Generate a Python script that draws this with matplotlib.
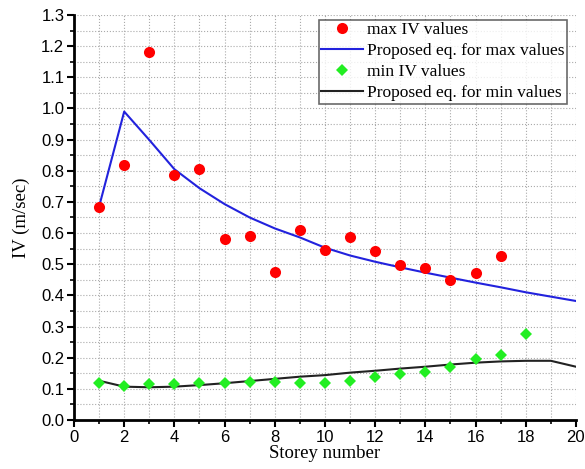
import matplotlib
matplotlib.use('Agg')
import matplotlib.pyplot as plt
from matplotlib.ticker import MultipleLocator

# storeys
storey_pts = [1, 2, 3, 4, 5, 6, 7, 8, 9, 10, 11, 12, 13, 14, 15, 16, 17]
max_iv = [0.685, 0.82, 1.18, 0.785, 0.805, 0.58, 0.59, 0.475, 0.61, 0.546,
          0.586, 0.543, 0.497, 0.488, 0.449, 0.471, 0.526]

storey_min = [1, 2, 3, 4, 5, 6, 7, 8, 9, 10, 11, 12, 13, 14, 15, 16, 17, 18]
min_iv = [0.118, 0.110, 0.115, 0.115, 0.118, 0.119, 0.121, 0.121, 0.120, 0.118,
          0.125, 0.137, 0.148, 0.153, 0.169, 0.195, 0.210, 0.276]

storey_eq = list(range(1, 21))
eq_max = [0.685, 0.99, 0.899, 0.805, 0.744, 0.693, 0.650, 0.615, 0.586, 0.553,
          0.528, 0.508, 0.490, 0.473, 0.457, 0.441, 0.426, 0.410, 0.396, 0.382]
eq_min = [0.126, 0.107, 0.105, 0.107, 0.112, 0.118, 0.125, 0.132, 0.139, 0.144,
          0.152, 0.158, 0.165, 0.171, 0.178, 0.184, 0.188, 0.190, 0.190, 0.171]

fig = plt.figure(figsize=(5.85, 4.69), dpi=100)
ax = fig.add_axes([0.1265, 0.1045, 0.858, 0.8635])

ax.plot(storey_pts, max_iv, 'o', color='#ff0000', markersize=8,
        markeredgewidth=0, label='max IV values', zorder=3)
ax.plot(storey_eq, eq_max, '-', color='#2222dd', linewidth=1.5,
        label='Proposed eq. for max values', zorder=2)
ax.plot(storey_min, min_iv, 'D', color='#22ee22', markersize=6.5,
        markeredgewidth=0, label='min IV values', zorder=3)
ax.plot(storey_eq, eq_min, '-', color='#222222', linewidth=1.5,
        label='Proposed eq. for min values', zorder=2)

ax.set_xlim(0, 20)
ax.set_ylim(0, 1.3)
ax.xaxis.set_major_locator(MultipleLocator(2))
ax.xaxis.set_minor_locator(MultipleLocator(1))
ax.yaxis.set_major_locator(MultipleLocator(0.1))
ax.yaxis.set_minor_locator(MultipleLocator(0.05))
ax.set_yticklabels([f'{v:.1f}' for v in ax.get_yticks()])

ax.grid(True, which='both', linestyle=':', color='#aaaaaa', linewidth=0.8)
ax.set_axisbelow(True)

for s in ['top', 'right']:
    ax.spines[s].set_visible(False)
for s in ['left', 'bottom']:
    ax.spines[s].set_linewidth(2)

ax.tick_params(which='major', direction='out', length=5, width=1.5,
               labelsize=12, pad=2)
ax.tick_params(which='minor', direction='out', length=3, width=1.2)
for lab in ax.get_xticklabels() + ax.get_yticklabels():
    lab.set_fontfamily('Liberation Sans')

ax.set_xlabel('Storey number', family='Liberation Serif', fontsize=13.5, labelpad=0)
ax.set_ylabel('IV (m/sec)', family='Liberation Serif', fontsize=13.5, labelpad=8)

leg = ax.legend(loc='upper right', bbox_to_anchor=(0.99, 0.997),
                prop={'family': 'Liberation Serif', 'size': 12.5},
                frameon=True, fancybox=False, edgecolor='#444444',
                handlelength=2.4, handletextpad=0.25, borderpad=0.15,
                labelspacing=0.28, borderaxespad=0.2)
leg.get_frame().set_linewidth(1.2)

fig.savefig('out.png', dpi=100)
